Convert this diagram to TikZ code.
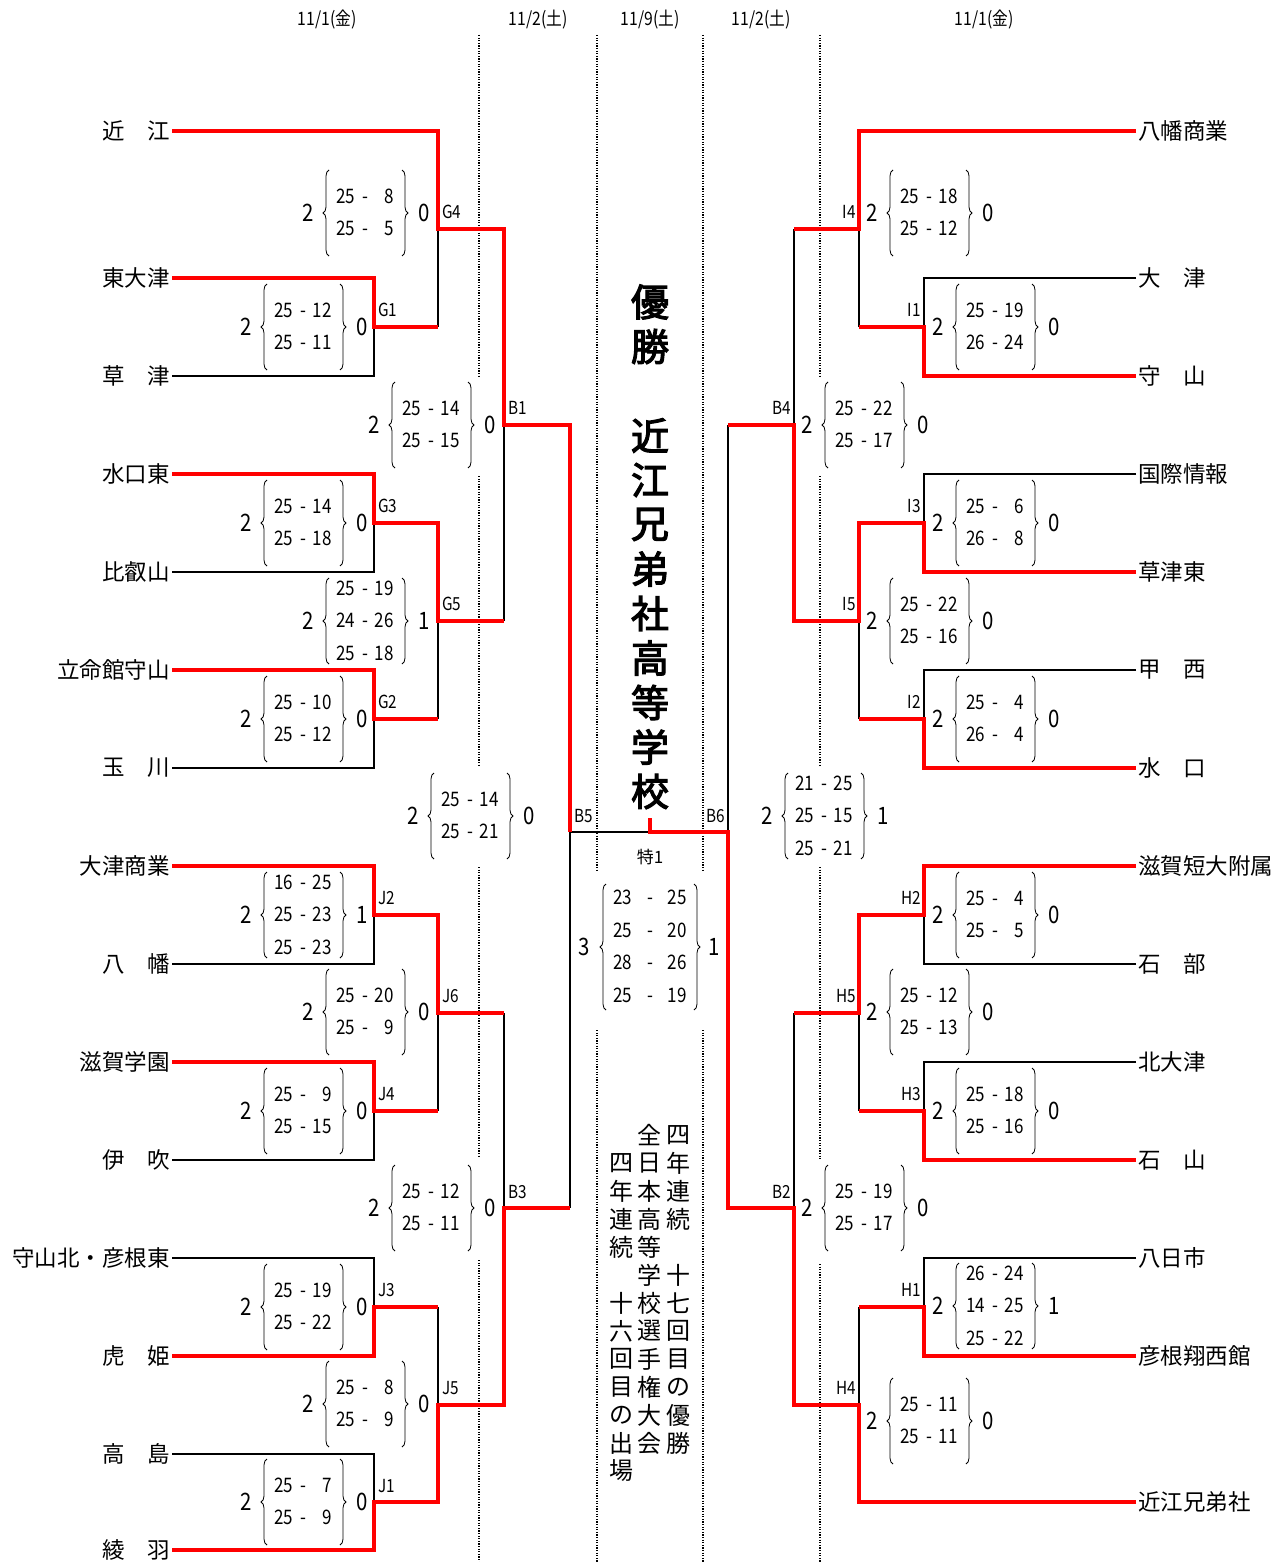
\documentclass[tikz,border=0pt]{standalone}
\usepackage{fontspec}
\setmainfont{Noto Sans CJK JP}
\newfontfamily\jfont{Noto Sans CJK JP}
\newfontfamily\nfont[FakeStretch=0.85]{Noto Sans CJK JP}
\newfontfamily\tfont[FakeBold=3]{Noto Sans CJK JP}
\usetikzlibrary{decorations.pathreplacing,calc}
\newcommand\pz{\phantom{0}}
\newcommand\scr[6]{%
 \node[scoretxt] (#1) at (#2,#3) {\begin{tabular}{@{}r@{\hspace{7pt}-\hspace{7pt}}r@{}}#6\end{tabular}};
 \draw[brc] ($(#1.center)+(-36,43)$) -- ($(#1.center)+(-36,-43)$);
 \draw[brc] ($(#1.center)+(37,-43)$) -- ($(#1.center)+(37,43)$);
 \node[scorenum] (#1l) at ($(#1.center)+(-57,0)$) {#4};
 \node[scorenum] (#1r) at ($(#1.center)+(59,0)$) {#5};
}
\begin{document}
\begin{tikzpicture}[x=1pt,y=-1pt,
  blk/.style={line width=2pt,black,line join=miter},
  rd/.style={line width=4.2pt,red,line join=miter},
  dots/.style={line width=1.6pt,dash pattern=on 1.2pt off 1.4pt},
  nmL/.style={anchor=east,inner ysep=0,inner xsep=2pt,font=\jfont\fontsize{22.5}{27}\selectfont},
  nmR/.style={anchor=west,inner ysep=0,inner xsep=2pt,font=\jfont\fontsize{22.5}{27}\selectfont},
  lblL/.style={anchor=west,inner sep=0,font=\nfont\fontsize{18}{20}\selectfont},
  lblR/.style={anchor=east,inner sep=0,font=\nfont\fontsize{18}{20}\selectfont},
  scoretxt/.style={inner sep=0,font=\nfont\fontsize{20}{32.5}\selectfont},
  scorenum/.style={inner sep=0,font=\nfont\fontsize{24}{28}\selectfont},
  brc/.style={decorate,decoration={brace,amplitude=6pt},line width=0.8pt},
  hdr/.style={inner sep=0,font=\nfont\fontsize{18.5}{20}\selectfont},
  ttl/.style={inner sep=0,font=\tfont\fontsize{38}{44}\selectfont},
  vtx/.style={inner sep=0,font=\jfont\fontsize{24}{28}\selectfont},
]
\useasboundingbox[fill=white] (0,0) rectangle (1284,1562);

% headers
\node[hdr] (h1) at (327,20) {11/1(金)};
\node[hdr] (h2) at (538,20) {11/2(土)};
\node[hdr] (h3) at (650,20) {11/9(土)};
\node[hdr] (h4) at (761,20) {11/2(土)};
\node[hdr] (h5) at (984,20) {11/1(金)};

% dotted guides
\draw[dots] (479,35) -- (479,376) (479,476) -- (479,767) (479,867) -- (479,1156) (479,1260) -- (479,1562);
\draw[dots] (820,35) -- (820,376) (820,476) -- (820,767) (820,867) -- (820,1160) (820,1264) -- (820,1562);
\draw[dots] (597,35) -- (597,870) (597,1030) -- (597,1562);
\draw[dots] (703,35) -- (703,870) (703,1030) -- (703,1562);

% left names
\node[nmL] (a1) at (172,131) {近　江};
\node[nmL] (a2) at (172,278) {東大津};
\node[nmL] (a3) at (172,376) {草　津};
\node[nmL] (a4) at (172,474) {水口東};
\node[nmL] (a5) at (172,572) {比叡山};
\node[nmL] (a6) at (172,670) {立命館守山};
\node[nmL] (a7) at (172,768) {玉　川};
\node[nmL] (a8) at (172,866) {大津商業};
\node[nmL] (a9) at (172,964) {八　幡};
\node[nmL] (a10) at (172,1062) {滋賀学園};
\node[nmL] (a11) at (172,1160) {伊　吹};
\node[nmL] (a12) at (172,1258) {守山北・彦根東};
\node[nmL] (a13) at (172,1356) {虎　姫};
\node[nmL] (a14) at (172,1454) {高　島};
\node[nmL] (a15) at (172,1550) {綾　羽};

% right names
\node[nmR] (b1) at (1136,131) {八幡商業};
\node[nmR] (b2) at (1136,278) {大　津};
\node[nmR] (b3) at (1136,376) {守　山};
\node[nmR] (b4) at (1136,474) {国際情報};
\node[nmR] (b5) at (1136,572) {草津東};
\node[nmR] (b6) at (1136,670) {甲　西};
\node[nmR] (b7) at (1136,768) {水　口};
\node[nmR] (b8) at (1136,866) {滋賀短大附属};
\node[nmR] (b9) at (1136,964) {石　部};
\node[nmR] (b10) at (1136,1062) {北大津};
\node[nmR] (b11) at (1136,1160) {石　山};
\node[nmR] (b12) at (1136,1258) {八日市};
\node[nmR] (b13) at (1136,1356) {彦根翔西館};
\node[nmR] (b14) at (1136,1502) {近江兄弟社};

% black (losing) lines
\draw[blk] (a3.east) -| (374,327);
\draw[blk] (438,327) -- (438,229);
\draw[blk] (a5.east) -| (374,523);
\draw[blk] (a7.east) -| (374,719);
\draw[blk] (438,719) -- (438,621);
\draw[blk] (504,621) -- (504,425);
\draw[blk] (650,832) -- (570,832) -- (570,1208);
\draw[blk] (a9.east) -| (374,915);
\draw[blk] (a11.east) -| (374,1111);
\draw[blk] (438,1111) -- (438,1013);
\draw[blk] (504,1013) -- (504,1208);
\draw[blk] (a12.east) -| (374,1307);
\draw[blk] (438,1307) -- (438,1405);
\draw[blk] (a14.east) -| (374,1502);

\draw[blk] (b2.west) -| (924,327);
\draw[blk] (859,327) -- (859,229);
\draw[blk] (794,229) -- (794,425);
\draw[blk] (728,425) -- (728,832);
\draw[blk] (b4.west) -| (924,523);
\draw[blk] (b6.west) -| (924,719);
\draw[blk] (859,719) -- (859,621);
\draw[blk] (b9.west) -| (924,915);
\draw[blk] (b10.west) -| (924,1111);
\draw[blk] (859,1111) -- (859,1013);
\draw[blk] (794,1013) -- (794,1208);
\draw[blk] (b12.west) -| (924,1307);
\draw[blk] (859,1307) -- (859,1405);

% red (winning) lines
\draw[rd] (a1.east) -| (438,229) -- (504,229) -- (504,425) -- (570,425) -- (570,832);
\draw[rd] (a2.east) -| (374,327) -- (438,327);
\draw[rd] (a4.east) -| (374,523) -- (438,523) -- (438,621) -- (504,621);
\draw[rd] (a6.east) -| (374,719) -- (438,719);
\draw[rd] (a8.east) -| (374,915) -- (438,915) -- (438,1013) -- (504,1013);
\draw[rd] (a10.east) -| (374,1111) -- (438,1111);
\draw[rd] (a13.east) -| (374,1307) -- (438,1307);
\draw[rd] (a15.east) -| (374,1502) -- (438,1502) -- (438,1405) -- (504,1405) -- (504,1208) -- (570,1208);

\draw[rd] (b1.west) -| (859,229) -- (794,229);
\draw[rd] (b3.west) -| (924,327) -- (859,327);
\draw[rd] (b5.west) -| (924,523) -- (859,523) -- (859,621) -- (794,621) -- (794,425) -- (728,425);
\draw[rd] (b7.west) -| (924,719) -- (859,719);
\draw[rd] (b8.west) -| (924,915) -- (859,915) -- (859,1013) -- (794,1013);
\draw[rd] (b11.west) -| (924,1111) -- (859,1111);
\draw[rd] (b13.west) -| (924,1307) -- (859,1307);
\draw[rd] (b14.west) -| (859,1405) -- (794,1405) -- (794,1208) -- (728,1208) -- (728,832) -- (650,832) -- (650,818);

% match labels
\node[lblL] (lG4) at (442,212) {G4};
\node[lblL] (lG1) at (378,310) {G1};
\node[lblL] (lB1) at (508,408) {B1};
\node[lblL] (lG3) at (378,506) {G3};
\node[lblL] (lG5) at (442,604) {G5};
\node[lblL] (lG2) at (378,702) {G2};
\node[lblL] (lB5) at (574,816) {B5};
\node[lblL] (lJ2) at (378,898) {J2};
\node[lblL] (lJ6) at (442,996) {J6};
\node[lblL] (lJ4) at (378,1094) {J4};
\node[lblL] (lB3) at (508,1192) {B3};
\node[lblL] (lJ3) at (378,1290) {J3};
\node[lblL] (lJ5) at (442,1388) {J5};
\node[lblL] (lJ1) at (378,1486) {J1};

\node[lblR] (lI4) at (856,212) {I4};
\node[lblR] (lI1) at (921,310) {I1};
\node[lblR] (lB4) at (791,408) {B4};
\node[lblR] (lI3) at (921,506) {I3};
\node[lblR] (lI5) at (856,604) {I5};
\node[lblR] (lI2) at (921,702) {I2};
\node[lblR] (lB6) at (725,816) {B6};
\node[lblR] (lH2) at (921,898) {H2};
\node[lblR] (lH5) at (856,996) {H5};
\node[lblR] (lH3) at (921,1094) {H3};
\node[lblR] (lB2) at (791,1192) {B2};
\node[lblR] (lH1) at (921,1290) {H1};
\node[lblR] (lH4) at (856,1388) {H4};

% scores left
\scr{sG4}{365}{213}{2}{0}{25&\pz8\\25&\pz5}
\scr{sG1}{303}{327}{2}{0}{25&12\\25&11}
\scr{sB1}{431}{425}{2}{0}{25&14\\25&15}
\scr{sG3}{303}{523}{2}{0}{25&14\\25&18}
\scr{sG5}{365}{621}{2}{1}{25&19\\24&26\\25&18}
\scr{sG2}{303}{719}{2}{0}{25&10\\25&12}
\scr{sB5}{470}{816}{2}{0}{25&14\\25&21}
\scr{sJ2}{303}{915}{2}{1}{16&25\\25&23\\25&23}
\scr{sJ6}{365}{1012}{2}{0}{25&20\\25&9}
\scr{sJ4}{303}{1111}{2}{0}{25&9\\25&15}
\scr{sB3}{431}{1208}{2}{0}{25&12\\25&11}
\scr{sJ3}{303}{1307}{2}{0}{25&19\\25&22}
\scr{sJ5}{365}{1404}{2}{0}{25&\pz8\\25&\pz9}
\scr{sJ1}{303}{1502}{2}{0}{25&\pz7\\25&\pz9}
% scores right
\scr{sI4}{929}{213}{2}{0}{25&18\\25&12}
\scr{sI1}{995}{327}{2}{0}{25&19\\26&24}
\scr{sB4}{864}{425}{2}{0}{25&22\\25&17}
\scr{sI3}{995}{523}{2}{0}{25&\pz6\\26&\pz8}
\scr{sI5}{929}{621}{2}{0}{25&22\\25&16}
\scr{sI2}{995}{719}{2}{0}{25&\pz4\\26&\pz4}
\scr{sB6}{824}{816}{2}{1}{21&25\\25&15\\25&21}
\scr{sH2}{995}{915}{2}{0}{25&\pz4\\25&\pz5}
\scr{sH5}{929}{1012}{2}{0}{25&12\\25&13}
\scr{sH3}{995}{1111}{2}{0}{25&18\\25&16}
\scr{sB2}{864}{1208}{2}{0}{25&19\\25&17}
\scr{sH1}{995}{1306}{2}{1}{26&24\\14&25\\25&22}
\scr{sH4}{929}{1421}{2}{0}{25&11\\25&11}

% final
\node[inner sep=0,font=\jfont\fontsize{17}{20}\selectfont] (tok) at (650,857) {特1};
\node[scoretxt] (sF) at (650,947) {\begin{tabular}{@{}r@{\hspace{15pt}-\hspace{15pt}}r@{}}23&25\\25&20\\28&26\\25&19\end{tabular}};
\draw[brc] ($(sF.center)+(-44,63)$) -- ($(sF.center)+(-44,-63)$);
\draw[brc] ($(sF.center)+(44,-63)$) -- ($(sF.center)+(44,63)$);
\node[scorenum] (sFl) at (584,947) {3};
\node[scorenum] (sFr) at (714,947) {1};

% champion title
\foreach \c [count=\i from 0] in {優,勝,{},近,江,兄,弟,社,高,等,学,校}
  {\node[ttl] (ttl\i) at (650,{302+44.5*\i}) {\c};}

% vertical notes
\foreach \c [count=\i from 0] in {四,年,連,続,{},十,七,回,目,の,優,勝}
  {\node[vtx] (va\i) at (678,{1135+28*\i}) {\c};}
\foreach \c [count=\i from 0] in {全,日,本,高,等,学,校,選,手,権,大,会}
  {\node[vtx] (vb\i) at (649,{1135+28*\i}) {\c};}
\foreach \c [count=\i from 0] in {{},四,年,連,続,{},十,六,回,目,の,出,場}
  {\node[vtx] (vc\i) at (621,{1135+28*\i}) {\c};}
\end{tikzpicture}
\end{document}
